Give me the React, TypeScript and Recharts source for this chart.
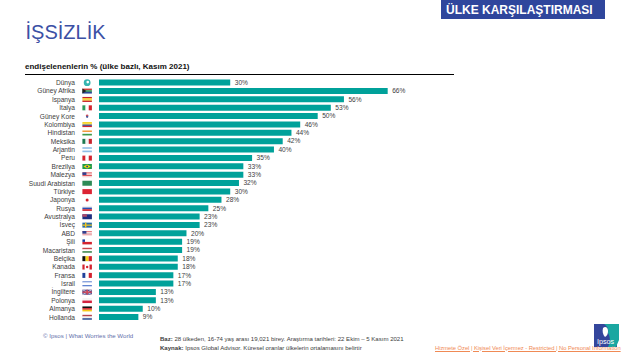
import React from "react";
import { BarChart, Bar, XAxis, YAxis, LabelList } from "recharts";

const countries = [
  "Dünya", "Güney Afrika", "İspanya", "İtalya", "Güney Kore", "Kolombiya", "Hindistan", "Meksika",
  "Arjantin", "Peru", "Brezilya", "Malezya", "Suudi Arabistan", "Türkiye", "Japonya", "Rusya",
  "Avustralya", "İsveç", "ABD", "Şili", "Macaristan", "Belçika", "Kanada", "Fransa", "İsrail",
  "İngiltere", "Polonya", "Almanya", "Hollanda",
];
const values = [30, 66, 56, 53, 50, 46, 44, 42, 40, 35, 33, 33, 32, 30, 28, 25, 23, 23, 20, 19, 19, 18, 18, 17, 17, 13, 13, 10, 9];

const data = countries.map((name, i) => ({ name, value: values[i] }));

const FONT = "'Liberation Sans', Arial, sans-serif";
const TEAL = "#00a19a";

// dir: h = stacked stripes, v = side by side
const flags: Record<string, { dir: "h" | "v"; colors: string[]; mark?: string }> = {
  "Güney Afrika": { dir: "h", colors: ["#d0403a", "#2f8f57", "#2c4a96"], mark: "sa" },
  "İspanya": { dir: "h", colors: ["#c8232c", "#f5c518", "#f5c518", "#c8232c"] },
  "İtalya": { dir: "v", colors: ["#2d9a5b", "#ffffff", "#d3232f"] },
  "Güney Kore": { dir: "h", colors: ["#ffffff"], mark: "kr" },
  "Kolombiya": { dir: "h", colors: ["#f7d117", "#f7d117", "#20409a", "#d3232f"] },
  "Hindistan": { dir: "h", colors: ["#f39a3c", "#ffffff", "#3d9a4a"] },
  "Meksika": { dir: "v", colors: ["#1d7a50", "#f2f2f2", "#c8232c"] },
  "Arjantin": { dir: "h", colors: ["#8fbde6", "#ffffff", "#8fbde6"] },
  "Peru": { dir: "v", colors: ["#d3232f", "#ffffff", "#d3232f"] },
  "Brezilya": { dir: "h", colors: ["#1f9a4a"], mark: "br" },
  "Malezya": { dir: "h", colors: ["#e0545a", "#f5d5d5", "#e0545a", "#f5d5d5"], mark: "canton" },
  "Suudi Arabistan": { dir: "h", colors: ["#2e8b57"] },
  "Türkiye": { dir: "h", colors: ["#dc2433"] },
  "Japonya": { dir: "h", colors: ["#ffffff"], mark: "jp" },
  "Rusya": { dir: "h", colors: ["#eeeeee", "#2c4fb0", "#d3232f"] },
  "Avustralya": { dir: "h", colors: ["#1f2f80"], mark: "au" },
  "İsveç": { dir: "h", colors: ["#2a6ca8"], mark: "se" },
  "ABD": { dir: "h", colors: ["#e57f86", "#f5dcdc", "#e57f86", "#f5dcdc"], mark: "canton" },
  "Şili": { dir: "h", colors: ["#ffffff", "#d3232f"], mark: "cl" },
  "Macaristan": { dir: "h", colors: ["#c9434a", "#ffffff", "#4a8f5a"] },
  "Belçika": { dir: "v", colors: ["#111111", "#f7d117", "#d3232f"] },
  "Kanada": { dir: "v", colors: ["#d3232f", "#ffffff", "#ffffff", "#d3232f"], mark: "ca" },
  "Fransa": { dir: "v", colors: ["#20409a", "#ffffff", "#d3232f"] },
  "İsrail": { dir: "h", colors: ["#5a7fd0", "#ffffff", "#ffffff", "#5a7fd0"] },
  "İngiltere": { dir: "h", colors: ["#3b4c92"], mark: "uk" },
  "Polonya": { dir: "h", colors: ["#f4f4f4", "#d3233f"] },
  "Almanya": { dir: "h", colors: ["#111111", "#d3232f", "#f7c918"] },
  "Hollanda": { dir: "h", colors: ["#b5444c", "#f2f2f2", "#3b5a9a"] },
};

function Flag({ name, x, y }: { name: string; x: number; y: number }) {
  const w = 9.5;
  const h = 5;
  if (name === "Dünya") {
    return (
      <g>
        <circle cx={x + w / 2} cy={y + h / 2} r={3.4} fill="#35b5b0" />
        <circle cx={x + w / 2 + 0.6} cy={y + h / 2 - 0.6} r={1.3} fill="#ffffff" />
      </g>
    );
  }
  const f = flags[name];
  if (!f) return null;
  const n = f.colors.length;
  return (
    <g>
      {f.colors.map((c, i) =>
        f.dir === "h" ? (
          <rect key={i} x={x} y={y + (i * h) / n} width={w} height={h / n} fill={c} />
        ) : (
          <rect key={i} x={x + (i * w) / n} y={y} width={w / n} height={h} fill={c} />
        ),
      )}
      {f.mark === "sa" && <path d={`M${x} ${y}L${x + 4} ${y + h / 2}L${x} ${y + h}Z`} fill="#222222" />}
      {f.mark === "kr" && (
        <>
          <circle cx={x + w / 2} cy={y + h / 2 - 0.4} r={1.3} fill="#d3505a" />
          <circle cx={x + w / 2} cy={y + h / 2 + 0.6} r={1.1} fill="#3f5aa0" />
        </>
      )}
      {f.mark === "br" && (
        <>
          <path d={`M${x + 1} ${y + h / 2}L${x + w / 2} ${y + 0.5}L${x + w - 1} ${y + h / 2}L${x + w / 2} ${y + h - 0.5}Z`} fill="#f5d90a" />
          <circle cx={x + w / 2} cy={y + h / 2} r={1} fill="#20409a" />
        </>
      )}
      {f.mark === "canton" && <rect x={x} y={y} width={4} height={2.6} fill="#2f3f8f" />}
      {f.mark === "jp" && <circle cx={x + w / 2} cy={y + h / 2} r={1.5} fill="#d3232f" />}
      {f.mark === "au" && <rect x={x} y={y} width={4.5} height={2.5} fill="#b04a6a" />}
      {f.mark === "se" && (
        <>
          <rect x={x + 2.6} y={y} width={1.4} height={h} fill="#f2c81e" />
          <rect x={x} y={y + 1.9} width={w} height={1.2} fill="#f2c81e" />
        </>
      )}
      {f.mark === "cl" && <rect x={x} y={y} width={2.6} height={h / 2} fill="#20409a" />}
      {f.mark === "ca" && <circle cx={x + w / 2} cy={y + h / 2} r={1.2} fill="#d3232f" />}
      {f.mark === "uk" && (
        <>
          <path d={`M${x} ${y}L${x + w} ${y + h}M${x + w} ${y}L${x} ${y + h}`} stroke="#e8c8d0" strokeWidth={0.9} />
          <rect x={x + w / 2 - 0.8} y={y} width={1.6} height={h} fill="#d0485a" />
          <rect x={x} y={y + h / 2 - 0.7} width={w} height={1.4} fill="#d0485a" />
        </>
      )}
    </g>
  );
}

function CountryTick({ x, y, payload }: any) {
  return (
    <g>
      <text x={75} y={y} dy={2.3} textAnchor="end" fontSize={6.6} fontFamily={FONT} fill="#404040">
        {payload.value}
      </text>
      <Flag name={payload.value} x={82.4} y={y - 2.5} />
    </g>
  );
}

function Note({ x, y, style, children }: { x: number; y: number; style?: React.CSSProperties; children: React.ReactNode }) {
  return (
    <div style={{ position: "absolute", left: x, top: y, whiteSpace: "nowrap", fontFamily: FONT, lineHeight: 1, ...style }}>
      {children}
    </div>
  );
}

export default function App() {
  return (
    <div style={{ position: "absolute", left: 0, top: 0, width: 640, height: 360, background: "#fff", overflow: "hidden" }}>
      <div style={{ position: "absolute", left: 441, top: 0, width: 164, height: 19, background: "#2f469c" }} />
      <Note x={446} y={3.5} style={{ color: "#fff", fontWeight: 700, fontSize: 12 }}>ÜLKE KARŞILAŞTIRMASI</Note>
      <Note x={25.5} y={22} style={{ color: "#3b50a5", fontSize: 20 }}>İŞSİZLİK</Note>
      <Note x={25} y={63} style={{ color: "#111", fontWeight: 700, fontSize: 8 }}>endişelenenlerin % (ülke bazlı, Kasım 2021)</Note>
      <div style={{ position: "absolute", left: 25, top: 74, width: 429, height: 1, background: "#000" }} />

      <div style={{ position: "absolute", left: 0, top: 0 }}>
        <BarChart
          width={640}
          height={360}
          data={data}
          layout="vertical"
          barSize={6}
          margin={{ top: 78.5, right: 103.6, bottom: 38.5, left: 0 }}
        >
          <XAxis type="number" domain={[0, 100]} hide />
          <YAxis
            type="category"
            dataKey="name"
            width={99}
            interval={0}
            axisLine={false}
            tickLine={false}
            tick={<CountryTick />}
          />
          <Bar dataKey="value" fill={TEAL} isAnimationActive={false}>
            <LabelList
              dataKey="value"
              position="right"
              offset={4.5}
              formatter={(v: any) => `${v}%`}
              style={{ fontSize: 6.6, fontFamily: FONT, fill: "#404040" }}
            />
          </Bar>
        </BarChart>
      </div>

      <Note x={43} y={333} style={{ color: "#6370ab", fontSize: 6.1 }}>© Ipsos | What Worries the World</Note>
      <Note x={160} y={336} style={{ color: "#404040", fontSize: 6.05 }}>
        <b>Baz:</b> 28 ülkeden, 16-74 yaş arası 19,021 birey. Araştırma tarihleri: 22 Ekim – 5 Kasım 2021
      </Note>
      <Note x={160} y={345} style={{ color: "#404040", fontSize: 6.05 }}>
        <b>Kaynak:</b> Ipsos Global Advisor. Küresel oranlar ülkelerin ortalamasını belirtir
      </Note>

      <svg style={{ position: "absolute", left: 594, top: 324 }} width={26} height={24}>
        <rect x={0} y={0} width={23} height={23} fill="#34469c" />
        <path d="M10 0H25V16L22 23H14C17 18 16 12 14 9C15 5 13 2 10 0Z" fill="#1aa7a1" />
        <path d="M9 4C11 2 14 3 14 7C14 10 13 12 11 13C9 11 8 7 9 4Z" fill="#fff" />
        <text x={11.5} y={19.5} textAnchor="middle" fontSize={7.2} fontFamily={FONT} fill="#fff">Ipsos</text>
      </svg>
      <Note x={435} y={345.5} style={{ color: "#f08a55", fontSize: 5.8, letterSpacing: -0.04, textDecoration: "underline" }}>
        Hizmete Özel | Kişisel Veri İçermez - Restricted | No Personal Information
      </Note>
    </div>
  );
}
